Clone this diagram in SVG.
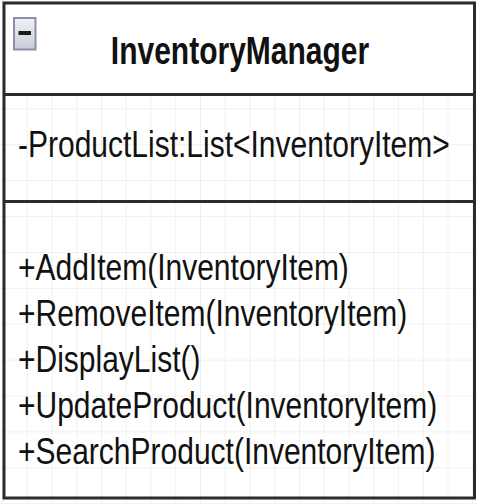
<svg xmlns="http://www.w3.org/2000/svg" width="478" height="504" viewBox="0 0 478 504">
  <defs>
    <pattern id="grid" patternUnits="userSpaceOnUse" x="2" y="0.6" width="24.75" height="35.9">
      <path d="M0 0H24.75M0 0V35.9" fill="none" stroke="#ececec" stroke-width="1.5"/>
    </pattern>
    <linearGradient id="btn" x1="0" y1="0" x2="0" y2="1">
      <stop offset="0" stop-color="#f0f1f5"/>
      <stop offset="1" stop-color="#c9cdd9"/>
    </linearGradient>
    <style>
      .txt { font-family: "Liberation Sans", Arial, sans-serif; font-size: 30px; fill: #111; }
      .title { font-weight: bold; text-anchor: middle; }
      .frame { fill: none; stroke: #2b2b2b; stroke-width: 3; }
      .div { stroke: #2b2b2b; stroke-width: 3; }
    </style>
  </defs>
  <rect x="0" y="0" width="478" height="504" fill="#ffffff"/>
  <rect x="0" y="0" width="478" height="504" fill="url(#grid)"/>
  <g id="InventoryManager">
    <rect x="4" y="3" width="470.5" height="91" fill="#ffffff"/>
    <rect class="frame" x="4" y="3" width="470.5" height="495"/>
    <line class="div" x1="4" y1="94.5" x2="474.5" y2="94.5"/>
    <line class="div" x1="4" y1="201.5" x2="474.5" y2="201.5"/>
    <g id="collapse">
      <rect x="14" y="18" width="21.5" height="31.5" fill="url(#btn)" stroke="#8a90ad" stroke-width="2"/>
      <rect x="18.5" y="31" width="12.5" height="4" fill="#1a1a1a"/>
    </g>
    <text class="txt title" transform="translate(240,64) scale(1,1.3)">InventoryManager</text>
    <text class="txt" transform="translate(18,157) scale(1,1.22)">-ProductList:List&lt;InventoryItem&gt;</text>
    <text class="txt" transform="translate(18,280) scale(1,1.2)">+AddItem(InventoryItem)</text>
    <text class="txt" transform="translate(18,326) scale(1,1.2)">+RemoveItem(InventoryItem)</text>
    <text class="txt" transform="translate(18,372) scale(1,1.2)">+DisplayList()</text>
    <text class="txt" transform="translate(18,418) scale(1,1.2)">+UpdateProduct(InventoryItem)</text>
    <text class="txt" transform="translate(18,464) scale(1,1.2)">+SearchProduct(InventoryItem)</text>
  </g>
</svg>
